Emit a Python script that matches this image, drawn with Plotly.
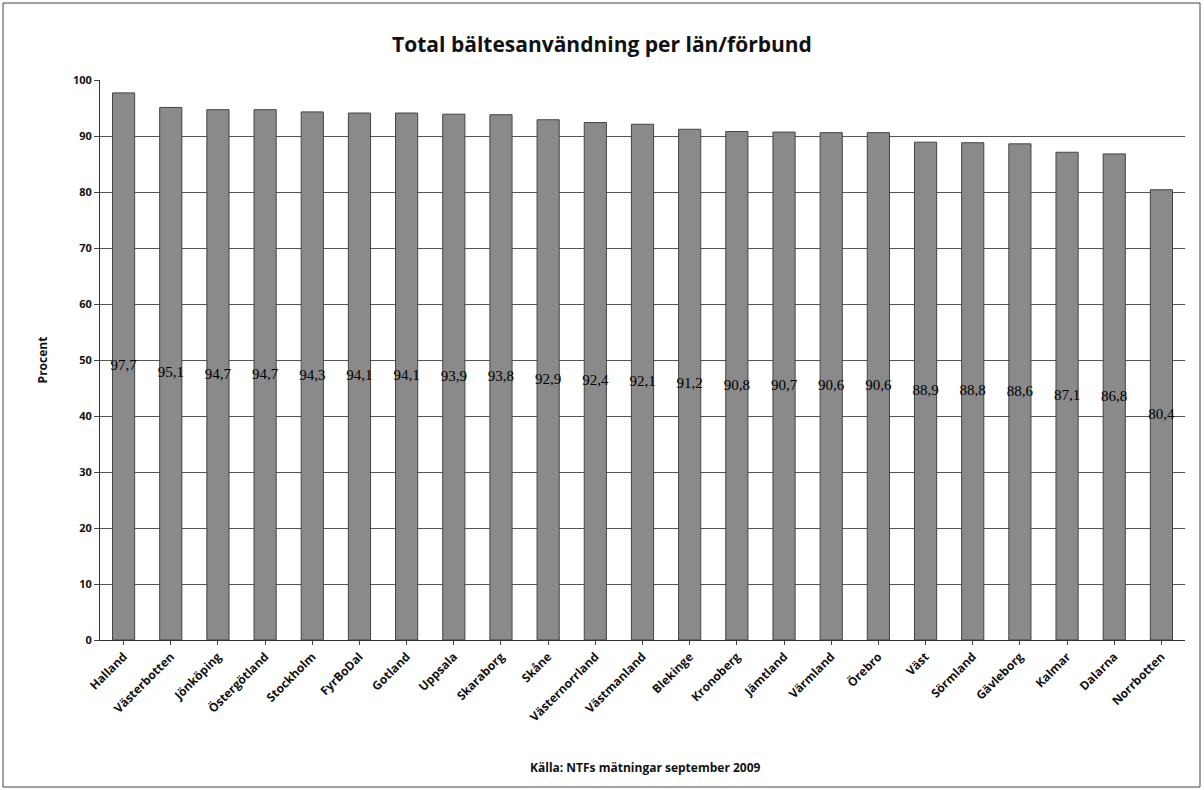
import plotly.graph_objects as go

categories = ["Halland", "Västerbotten", "Jönköping", "Östergötland", "Stockholm", "FyrBoDal",
              "Gotland", "Uppsala", "Skaraborg", "Skåne", "Västernorrland", "Västmanland",
              "Blekinge", "Kronoberg", "Jämtland", "Värmland", "Örebro", "Väst", "Sörmland",
              "Gävleborg", "Kalmar", "Dalarna", "Norrbotten"]
values = [97.7, 95.1, 94.7, 94.7, 94.3, 94.1, 94.1, 93.9, 93.8, 92.9, 92.4, 92.1,
          91.2, 90.8, 90.7, 90.6, 90.6, 88.9, 88.8, 88.6, 87.1, 86.8, 80.4]
labels = [f"{v:.1f}".replace(".", ",") for v in values]

W, H = 1204, 790
L, R, T, B = 100, 19, 80, 150
pw, ph = W - L - R, H - T - B

fig = go.Figure()
fig.add_trace(go.Bar(
    x=categories, y=values,
    marker=dict(color="#8a8a8a", line=dict(color="#444", width=1)),
    width=0.47, hoverinfo="x+y",
))
fig.add_trace(go.Scatter(
    x=categories, y=[v / 2 for v in values], text=labels, mode="text",
    textposition="middle center", cliponaxis=False, hoverinfo="skip",
    textfont=dict(family="Liberation Serif", size=15, color="#000"),
))

fig.update_layout(
    width=W, height=H,
    margin=dict(l=L, r=R, t=T, b=B),
    paper_bgcolor="white", plot_bgcolor="white",
    title=dict(text="<b>Total bältesanvändning per län/förbund</b>", x=0.5, xanchor="center",
               y=1 - 45 / H, yanchor="middle",
               font=dict(family="Open Sans", size=21, color="#111")),
    font=dict(family="Open Sans", color="#111"),
    showlegend=False,
)
fig.update_yaxes(range=[0, 100], dtick=10, showgrid=True, gridcolor="#555", gridwidth=1,
                 showline=True, linecolor="#333", ticks="outside", ticklen=5,
                 tickprefix="<b>", ticksuffix="</b>",
                 tickfont=dict(family="Open Sans", size=11, color="#111"),
                 title=dict(text="<b>Procent</b>", font=dict(family="Open Sans", size=12, color="#111"), standoff=22))
fig.update_xaxes(range=[-0.5, len(categories) - 0.5], showline=True, linecolor="#333",
                 ticks="outside", ticklen=4, tickangle=-45,
                 tickprefix="<b>", ticksuffix="</b>",
                 tickfont=dict(family="Open Sans", size=12, color="#111"))

fig.add_annotation(text="<b>Källa: NTFs mätningar september 2009</b>", xref="paper", yref="paper",
                   x=(645 - L) / pw, y=-(767 - (H - B)) / ph, yanchor="middle", showarrow=False,
                   font=dict(family="Open Sans", size=12, color="#111"))
fig.add_shape(type="rect", xref="paper", yref="paper",
              x0=(3 - L) / pw, x1=(1200 - L) / pw,
              y0=-(787 - (H - B)) / ph, y1=((H - B) - 3) / ph,
              line=dict(color="#444", width=1))

fig.write_html("out.html", config={"displayModeBar": False},
               post_script="document.body.style.margin='0';")
